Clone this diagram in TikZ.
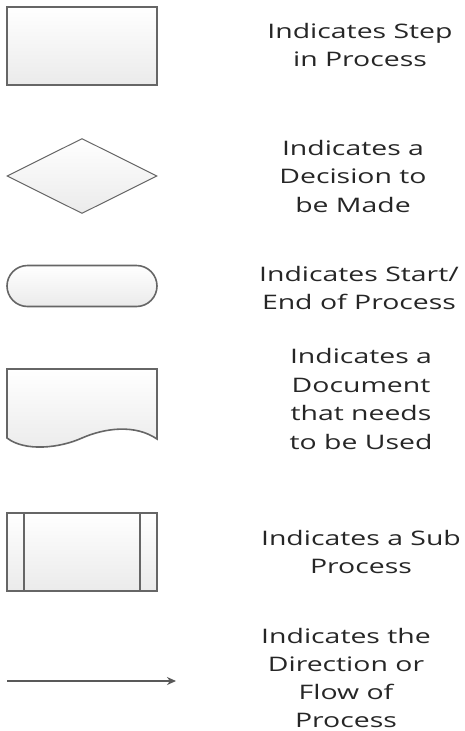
\documentclass[tikz,border=0pt]{standalone}
\usepackage{fontspec}
\setmainfont{Open Sans}[FakeStretch=1.42]
\usetikzlibrary{shapes.geometric,shapes.misc,arrows.meta}
\begin{document}
\begin{tikzpicture}[x=1pt,y=-1pt,
  symb/.style={draw=black!60, line width=1.6pt, top color=white, bottom color=black!8, inner sep=0pt},
  lbl/.style={align=center, text=black!85, font=\fontsize{20}{28.5}\selectfont, inner sep=0pt}]
\useasboundingbox[fill=white] (0,0) rectangle (465,731);
% step
\node[symb, rectangle, minimum width=150pt, minimum height=78pt] (stepbox) at (82,46) {};
% decision
\node[symb, diamond, line width=1pt, minimum width=150pt, minimum height=75pt, aspect=2] (dec) at (82,176) {};
% terminal
\node[symb, rounded rectangle, minimum width=150pt, minimum height=41pt] (term) at (82,286) {};
% document
\coordinate (doca) at (7,369);
\coordinate (docb) at (157,369);
\draw[symb] (doca) -- (docb) -- (157,439) .. controls (135,424) and (105,428) .. (82,438) .. controls (60,448) and (25,452) .. (7,438) -- cycle;
% subprocess
\node[symb, rectangle, minimum width=150pt, minimum height=78pt] (sub) at (82,552) {};
\draw[draw=black!60, line width=1.6pt] ([xshift=18pt]sub.north west) -- ([xshift=18pt]sub.south west);
\draw[draw=black!60, line width=1.6pt] ([xshift=-18pt]sub.north east) -- ([xshift=-18pt]sub.south east);
% arrow
\coordinate (arra) at (7,681);
\coordinate (arrb) at (176,681);
\draw[black!65, line width=1.4pt, -{Stealth[length=9pt,width=8pt]}] (arra) -- (arrb);
% labels
\node[lbl] (t1) at (360,45) {Indicates Step\\in Process};
\node[lbl] (t2) at (353,176) {Indicates a\\Decision to\\be Made};
\node[lbl] (t3) at (359,288) {Indicates Start/\\End of Process};
\node[lbl] (t4) at (361,399) {Indicates a\\Document\\that needs\\to be Used};
\node[lbl] (t5) at (361,552) {Indicates a Sub\\Process};
\node[lbl, font=\fontsize{20}{28}\selectfont] (t6) at (346,678) {Indicates the\\Direction or\\Flow of\\Process};
\end{tikzpicture}
\end{document}
